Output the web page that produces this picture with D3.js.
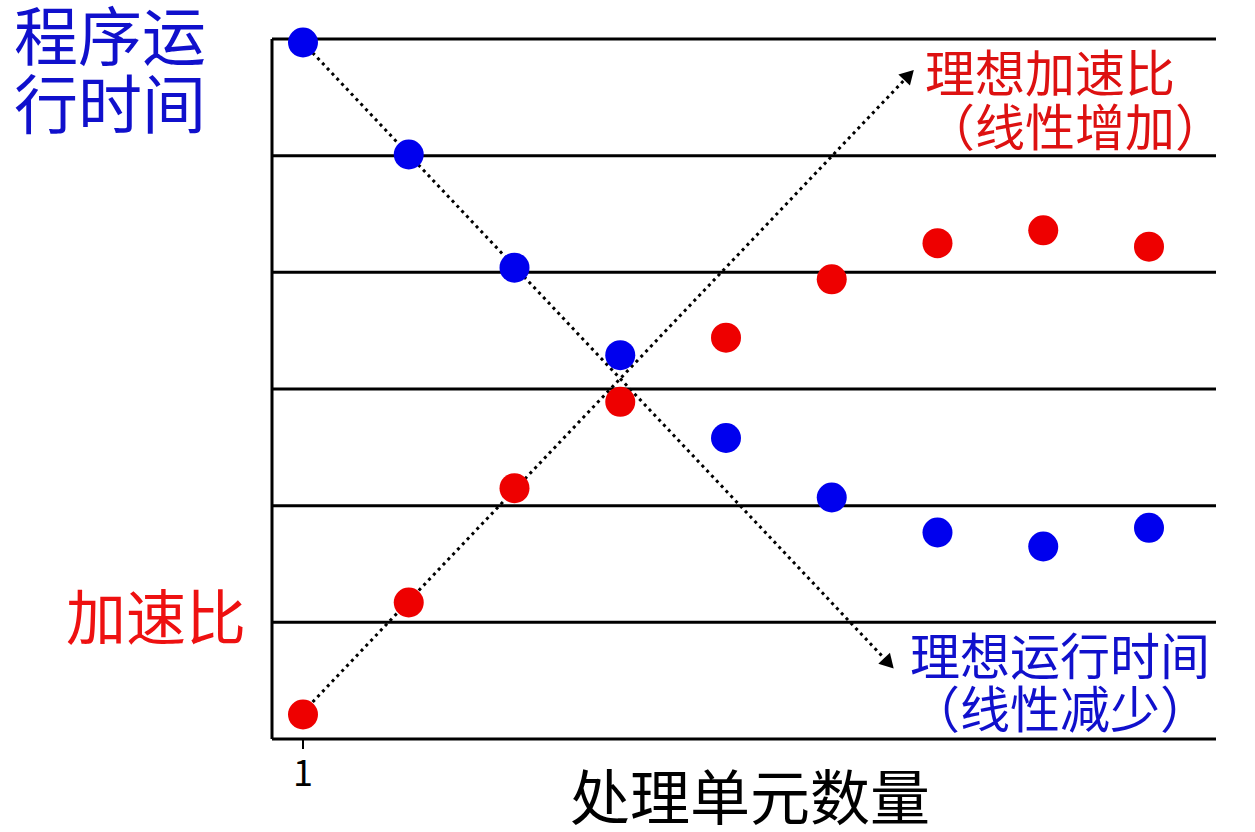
<!DOCTYPE html><html><head><meta charset="utf-8">
<script src="https://d3js.org/d3.v7.min.js"></script>
<style>body{margin:0;background:#fff}text{font-family:"Noto Sans CJK SC","DejaVu Sans",sans-serif}</style></head><body>
<svg id="c" width="1255" height="832"></svg>
<script>
const procs=[1,2,3,4,5,6,7,8,9];
const runtime=[5.97,5.01,4.04,3.29,2.58,2.07,1.77,1.65,1.81];
const speedup=[0.21,1.17,2.15,2.89,3.44,3.94,4.25,4.36,4.22];
const gridLevels=[0,1,2,3,4,5,6];
const idealRuntime=[[1,5.97],[6.56,0.63]];
const idealSpeedup=[[1,0.23],[6.75,5.71]];
const svg=d3.select("#c");
const x=d3.scaleLinear().domain([1,9]).range([303,1149]);
const y=d3.scaleLinear().domain([0,6]).range([739,39]);
svg.append("defs").append("marker").attr("id","ar").attr("viewBox","-12 -12 24 24").attr("refX",0).attr("refY",0)
 .attr("markerWidth",24).attr("markerHeight",24).attr("orient","auto").attr("markerUnits","userSpaceOnUse")
 .append("path").attr("d","M-10,-8L4,0L-10,8z").attr("fill","#000");
svg.selectAll(".g").data(gridLevels).join("line").attr("x1",272).attr("x2",1216)
 .attr("y1",d=>y(d)).attr("y2",d=>y(d)).attr("stroke","#000").attr("stroke-width",3);
svg.append("line").attr("x1",272).attr("x2",272).attr("y1",y(6)).attr("y2",y(0)).attr("stroke","#000").attr("stroke-width",3);
svg.append("line").attr("x1",x(1)).attr("x2",x(1)).attr("y1",y(0)).attr("y2",y(0)+10).attr("stroke","#000").attr("stroke-width",2);
const ln=d3.line().x(d=>x(d[0])).y(d=>y(d[1]));
[idealRuntime,idealSpeedup].forEach(p=>svg.append("path").attr("d",ln(p)).attr("fill","none").attr("stroke","#000")
 .attr("stroke-width",3).attr("stroke-dasharray","3,4").attr("marker-end","url(#ar)"));
svg.selectAll(".b").data(procs).join("circle").attr("cx",d=>x(d)).attr("cy",(d,i)=>y(runtime[i])).attr("r",15).attr("fill","#0000ee");
svg.selectAll(".r").data(procs).join("circle").attr("cx",d=>x(d)).attr("cy",(d,i)=>y(speedup[i])).attr("r",15).attr("fill","#ee0000");
function t(s,xx,yy,fs,c,a){svg.append("text").attr("x",xx).attr("y",yy).attr("font-size",fs).attr("fill",c).attr("text-anchor",a||"start").text(s);}
t("程序运",14,60,64,"#1010cc");t("行时间",14,128,64,"#1010cc");
t("加速比",66,640,60,"#ee1111");
t("理想加速比",925,92,50,"#dd1111");t("（线性增加）",925,146,50,"#dd1111");
t("理想运行时间",910,675,50,"#1010cc");t("（线性减少）",910,728,50,"#1010cc");
t("1",x(1),786,36,"#000","middle");
t("处理单元数量",750,820,60,"#000","middle");
</script></body></html>
